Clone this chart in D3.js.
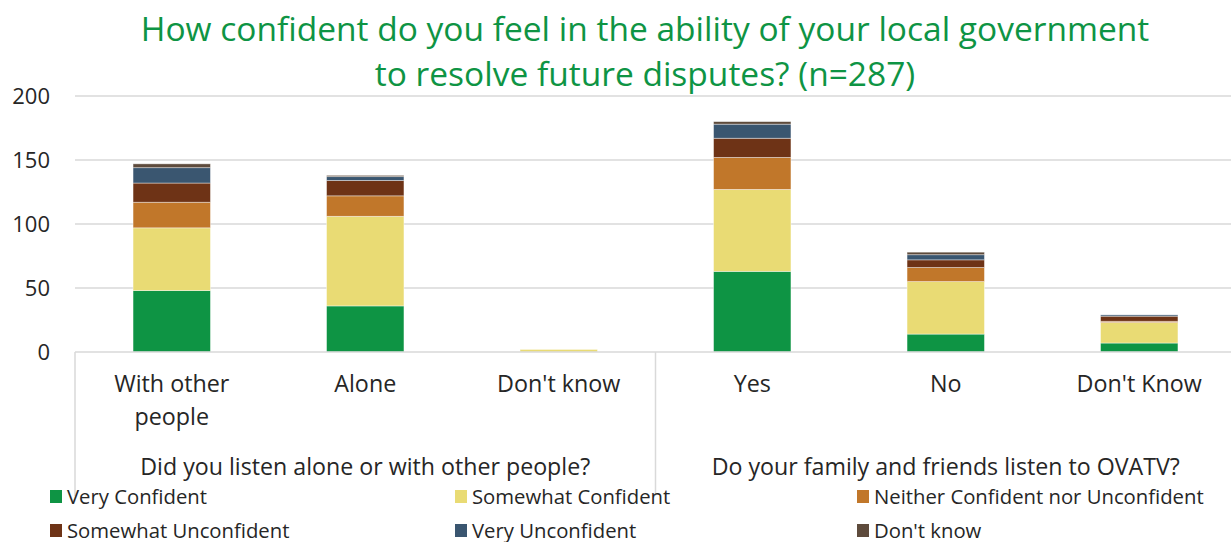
<!DOCTYPE html>
<html><head><meta charset="utf-8">
<script src="https://cdn.jsdelivr.net/npm/d3@7"></script>
<style>body{margin:0;background:#fff;} text{font-family:"Open Sans", Lato, sans-serif;}</style>
</head><body><svg id="c" width="1231" height="542"></svg>
<script>
const categories = ["With other people","Alone","Don't know","Yes","No","Don't Know"];
const groups = [
  {label:"Did you listen alone or with other people?", from:0, to:3},
  {label:"Do your family and friends listen to OVATV?", from:3, to:6}
];
const seriesNames = ["Very Confident","Somewhat Confident","Neither Confident nor Unconfident","Somewhat Unconfident","Very Unconfident","Don't know"];
const veryConfident      = [48, 36, 0, 63, 14, 7];
const somewhatConfident  = [49, 70, 2, 64, 41, 16];
const neither            = [20, 16, 0, 25, 11, 1];
const somewhatUnconf     = [15, 12, 0, 15, 6, 4];
const veryUnconf         = [12, 3, 0, 11, 4, 1];
const dontKnow           = [3, 1, 0, 2, 2, 0];
const yTicks = [0, 50, 100, 150, 200];
const colors = ["#0E9444","#E9DB74","#C1772A","#6E3316","#3A5670","#5E4B3C"];

const seriesVals = [veryConfident, somewhatConfident, neither, somewhatUnconf, veryUnconf, dontKnow];
const rows = categories.map((c,i)=>{const r={cat:c}; seriesNames.forEach((s,j)=>r[s]=seriesVals[j][i]); return r;});
const stack = d3.stack().keys(seriesNames)(rows);

const svg = d3.select("#c");
const pLeft = 75, pRight = 1236, pTop = 96, pBottom = 352;
const x = d3.scaleBand().domain(categories).range([pLeft, pRight]).paddingInner(0.6).paddingOuter(0.3);
const y = d3.scaleLinear().domain([0,200]).range([pBottom, pTop]);

// title
const title = svg.append("text").attr("text-anchor","middle").attr("fill","#0E9444").style("font-size","33.5px");
title.append("tspan").attr("x",645).attr("y",41).text("How confident do you feel in the ability of your local government");
title.append("tspan").attr("x",645).attr("y",86).text("to resolve future disputes? (n=287)");

// grid
svg.append("g").selectAll("line").data(yTicks.filter(t=>t>0)).join("line")
  .attr("x1",pLeft).attr("x2",1231).attr("y1",d=>y(d)).attr("y2",d=>y(d))
  .attr("stroke","#d9d9d9").attr("stroke-width",1.5);
// y labels
svg.append("g").selectAll("text").data(yTicks).join("text")
  .attr("x",50).attr("y",d=>y(d)).attr("dy","0.35em").attr("text-anchor","end")
  .attr("fill","#262626").style("font-size","22px").text(d=>d);

// bars
svg.append("g").selectAll("g").data(stack).join("g").attr("fill",(d,i)=>colors[i])
  .selectAll("rect").data(d=>d).join("rect")
  .attr("x",d=>x(d.data.cat)).attr("width",x.bandwidth())
  .attr("y",d=>y(d[1])).attr("height",d=>Math.max(0,y(d[0])-y(d[1])))
  .attr("stroke","#ffffff").attr("stroke-opacity",0.5).attr("stroke-width",d=>(d[1]-d[0])>0?0.8:0);

// baseline & group separators
svg.append("line").attr("x1",pLeft).attr("x2",1231).attr("y1",pBottom).attr("y2",pBottom).attr("stroke","#d9d9d9").attr("stroke-width",1.5);
const sepX = [pLeft, (x(categories[2])+x.bandwidth()+x(categories[3]))/2];
svg.append("g").selectAll("line").data(sepX).join("line")
  .attr("x1",d=>d).attr("x2",d=>d)
  .attr("y1",pBottom).attr("y2",496).attr("stroke","#d9d9d9").attr("stroke-width",1.5);

// category labels
const cl = svg.append("g").selectAll("text").data(categories).join("text")
  .attr("text-anchor","middle").attr("fill","#262626").style("font-size","23.3px")
  .attr("x",d=>x(d)+x.bandwidth()/2).attr("y",392);
cl.each(function(d){
  const t=d3.select(this);
  const lines = d==="With other people"?["With other","people"]:[d];
  lines.forEach((l,k)=>t.append("tspan").attr("x",t.attr("x")).attr("dy",k?33:0).text(l));
});
// group labels
svg.append("g").selectAll("text").data(groups).join("text")
  .attr("text-anchor","middle").attr("fill","#262626").style("font-size","23.2px")
  .attr("x",g=>(x(categories[g.from]) + x(categories[g.to-1])+x.bandwidth())/2).attr("y",475).text(g=>g.label);

// legend
const lx = [50,455,857], ly = [497,531];
const lg = svg.append("g").selectAll("g").data(seriesNames).join("g")
  .attr("transform",(d,i)=>`translate(${lx[i%3]},${ly[Math.floor(i/3)]})`);
lg.append("rect").attr("x",0).attr("y",-7).attr("width",12).attr("height",13).attr("fill",(d,i)=>colors[i]);
lg.append("text").attr("x",17).attr("dy","0.35em").attr("fill","#262626").style("font-size","20.3px").text(d=>d);
</script></body></html>
